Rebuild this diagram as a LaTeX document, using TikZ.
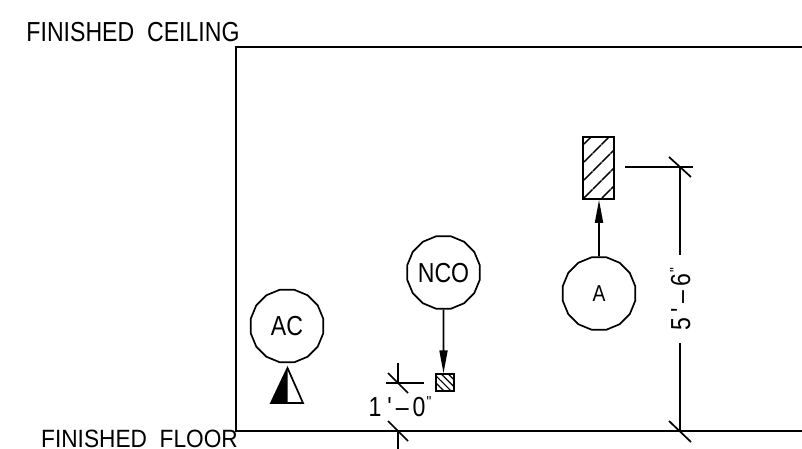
\documentclass[tikz,border=0pt]{standalone}
\usepackage{fontspec}
\newfontfamily\cadfont[FakeStretch=0.84]{Liberation Sans}
\usepackage{tikz}
\usetikzlibrary{arrows.meta,patterns.meta,shapes.geometric}
\newcommand{\inchmark}{\kern1pt\raisebox{9pt}{\fontsize{16}{16}\selectfont"}}
\tikzset{
    label/.style={font=\cadfont\fontsize{27.5}{27.5}\selectfont, inner sep=0pt, text depth=0pt},
    bubble/.style={draw, shape=regular polygon, regular polygon sides=16, minimum size=74pt, inner sep=0pt, font=\cadfont\fontsize{27.5}{27.5}\selectfont, text depth=0pt},
    leader/.style={-{Triangle[length=23pt,width=8pt]}},
    tick/.style={line width=1.7pt}
}

\begin{document}
\begin{tikzpicture}[x=1pt, y=-1pt, line width=1.7pt]
    \useasboundingbox (0, 0) rectangle (802, 449);

    % room
    \coordinate (ceilEnd) at (802, 47);
    \coordinate (ceilCorner) at (236, 47);
    \coordinate (floorCorner) at (236, 431);
    \coordinate (floorEnd) at (802, 431);
    \draw (ceilEnd) -- (ceilCorner) -- (floorCorner) -- (floorEnd);
    \node [label] (ceilLabel) at (133, 32) {FINISHED\ \ CEILING};
    \node [label, font=\cadfont\fontsize{25}{25}\selectfont, xscale=1.08, transform shape] (floorLabel) at (139.5, 439) {FINISHED\ \ FLOOR};

    % devices
    \node [bubble] (acBubble) at (287, 326) {AC};
    \node [bubble] (ncoBubble) at (443.5, 272.5) {NCO};
    \node [bubble, font=\cadfont\fontsize{23}{23}\selectfont] (aBubble) at (599, 293.5) {A};

    % horn strobe
    \coordinate (hornTop) at (287.5, 368);
    \coordinate (hornMid) at (287.5, 403);
    \coordinate (hornLeft) at (271, 403);
    \coordinate (hornRight) at (303, 403);
    \fill (hornTop) -- (hornLeft) -- (hornMid) -- cycle;
    \draw (hornTop) -- (hornRight) -- (hornLeft) -- cycle;

    % boxes
    \node [draw, minimum width=18pt, minimum height=17pt, inner sep=0pt,
        pattern={Lines[angle=-45,distance=5pt,line width=1.2pt]}] (ncoBox) at (445, 382.5) {};
    \node [draw, minimum width=31pt, minimum height=62pt, inner sep=0pt,
        pattern={Lines[angle=45,distance=13pt,line width=1.7pt]}] (aBox) at (598.5, 168) {};
    \coordinate (ncoTarget) at (ncoBubble |- ncoBox.north);
    \draw [leader] (ncoBubble) -- (ncoTarget);
    \draw [leader] (aBubble) -- (aBox.south -| aBubble);

    % 5'-6" dimension
    \coordinate (dimTop) at (680, 167);
    \coordinate (dimBot) at (680, 431);
    \coordinate (dimTopExt) at (625, 167);
    \coordinate (dimTopEnd) at (693, 167);
    \coordinate (dimGapA) at (680, 255);
    \coordinate (dimGapB) at (680, 343);
    \draw (dimTopExt) -- (dimTopEnd);
    \draw (dimTop) -- (dimGapA);
    \draw (dimGapB) -- (dimBot);
    \draw [tick] (669, 157) -- (691, 177);
    \draw [tick] (669, 421) -- (691, 442);
    \node [label, rotate=90] (heightLabel) at (680, 299.5) {5\kern6pt'\kern4pt–\kern4pt6\inchmark};

    % 1'-0" dimension
    \coordinate (lowTop) at (398, 363);
    \coordinate (lowMid) at (398, 383);
    \coordinate (lowExtL) at (386, 383);
    \coordinate (lowExtR) at (424, 383);
    \coordinate (lowBot) at (398, 431);
    \coordinate (lowEnd) at (398, 449);
    \draw (lowTop) -- (lowMid);
    \draw (lowExtL) -- (lowExtR);
    \draw (lowBot) -- (lowEnd);
    \draw [tick] (388, 373) -- (408, 393);
    \draw [tick] (388, 421) -- (408, 441);
    \node [label] (lowLabel) at (400, 406.5) {1\kern6pt'\kern4pt–\kern4pt0\inchmark};
\end{tikzpicture}
\end{document}
